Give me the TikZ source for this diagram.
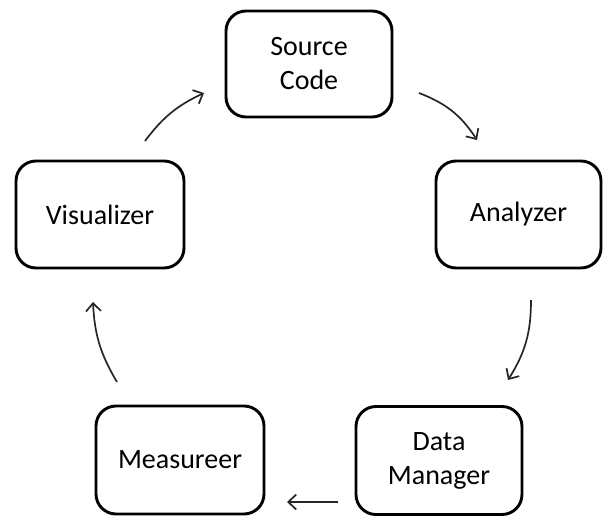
\documentclass[tikz,border=0pt]{standalone}
\usepackage{fontspec}
\setmainfont{Carlito}
\usetikzlibrary{arrows.meta}
\tikzset{
  stage/.style={draw=black, line width=2.9pt, rounded corners=20pt, fill=white,
    inner sep=0pt, align=center, font=\fontsize{28}{34}\selectfont},
  flow/.style={draw=black!85, line width=1.7pt,
    -{Straight Barb[length=8pt,width=15pt,line width=1.7pt]}}
}
\begin{document}
\begin{tikzpicture}[x=1pt, y=-1pt]
  \useasboundingbox (0,0) rectangle (605,517);
  % pipeline stages
  \node[stage, minimum width=166pt, minimum height=106pt] (src) at (309,64) {Source\\Code};
  \node[stage, minimum width=165pt, minimum height=107pt] (ana) at (518.5,214.5) {Analyzer};
  \node[stage, minimum width=166pt, minimum height=108pt] (dm) at (439,460.5) {Data\\Manager};
  \node[stage, minimum width=168pt, minimum height=108pt] (mea) at (180,460) {Measureer};
  \node[stage, minimum width=168pt, minimum height=107pt] (vis) at (100,214.5) {Visualizer};
  % arrow end points
  \coordinate (a1) at (419,93);  \coordinate (b1) at (477,140);
  \coordinate (a2) at (531,300); \coordinate (b2) at (508,380);
  \coordinate (a3) at (338,502); \coordinate (b3) at (287,502);
  \coordinate (a4) at (117,382); \coordinate (b4) at (93,302);
  \coordinate (a5) at (145,141); \coordinate (b5) at (204,93);
  % cycle arrows
  \draw[flow] (a1) to[bend left=18] (b1);
  \draw[flow] (a2) to[bend left=16] (b2);
  \draw[flow] (a3) -- (b3);
  \draw[flow] (a4) to[bend left=14] (b4);
  \draw[flow] (a5) to[bend left=14] (b5);
\end{tikzpicture}
\end{document}
